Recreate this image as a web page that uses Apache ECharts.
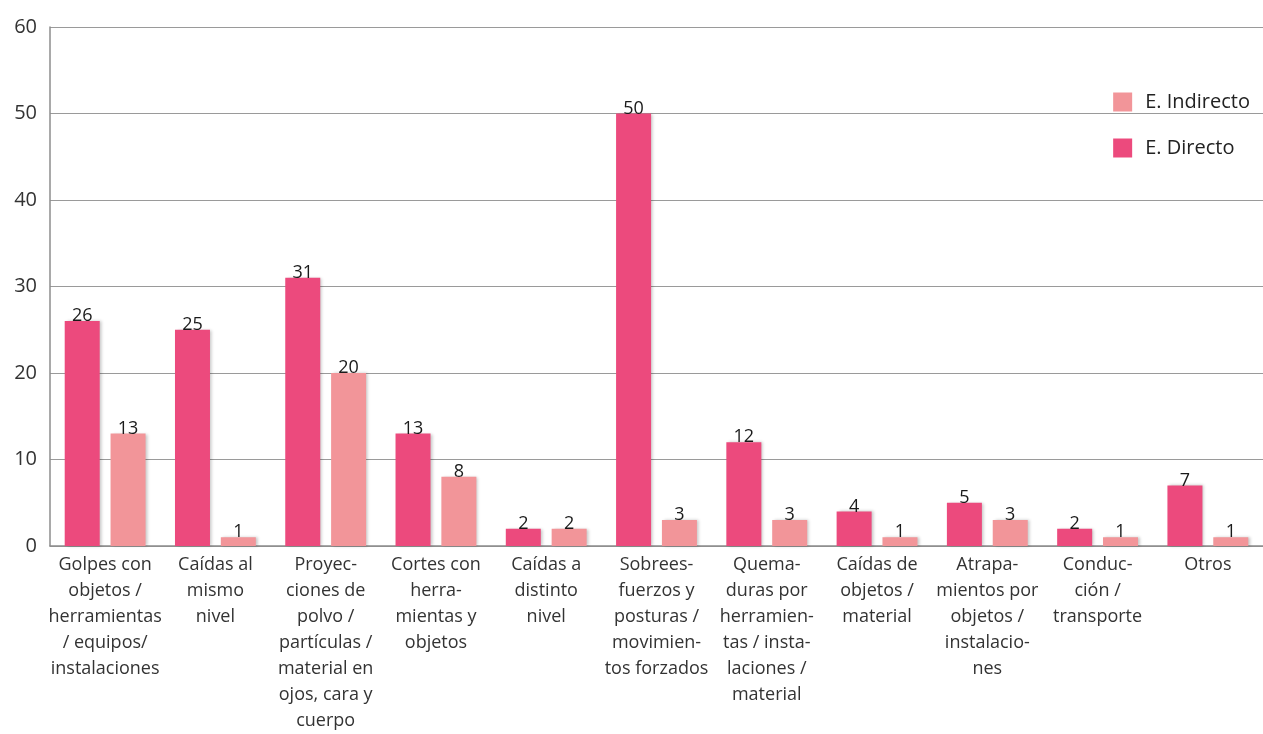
<!DOCTYPE html>
<html>
<head>
<meta charset="utf-8">
<script src="https://cdn.jsdelivr.net/npm/echarts@6/dist/echarts.min.js"></script>
<style>
  html, body { margin: 0; padding: 0; background: #fff; overflow: hidden; }
  #chart { width: 1263px; height: 734px; }
</style>
</head>
<body>
<div id="chart"></div>
<script>
// Accident categories (line breaks as typeset under each group)
const categories = [
  'Golpes con\nobjetos /\nherramientas\n/ equipos/\ninstalaciones',
  'Caídas al\nmismo\nnivel',
  'Proyec-\nciones de\npolvo /\npartículas /\nmaterial en\nojos, cara y\ncuerpo',
  'Cortes con\nherra-\nmientas y\nobjetos',
  'Caídas a\ndistinto\nnivel',
  'Sobrees-\nfuerzos y\nposturas /\nmovimien-\ntos forzados',
  'Quema-\nduras por\nherramien-\ntas / insta-\nlaciones /\nmaterial',
  'Caídas de\nobjetos /\nmaterial',
  'Atrapa-\nmientos por\nobjetos /\ninstalacio-\nnes',
  'Conduc-\nción /\ntransporte',
  'Otros'
];

const directo   = [26, 25, 31, 13, 2, 50, 12, 4, 5, 2, 7];
const indirecto = [13, 1, 20, 8, 2, 3, 3, 1, 3, 1, 1];

const yTicks = { min: 0, max: 60, interval: 10 };

const FONT = '"Open Sans", Lato, sans-serif';
const colDirecto = '#EC4A7D';
const colIndirecto = '#F29599';

const chart = echarts.init(document.getElementById('chart'));

const barStyle = (color) => ({
  color: color,
  shadowColor: 'rgba(0,0,0,0.22)',
  shadowBlur: 3,
  shadowOffsetX: 2,
  shadowOffsetY: 0
});

const valueLabel = {
  show: true,
  position: 'top',
  distance: -4,
  color: '#1a1a1a',
  fontFamily: FONT,
  fontSize: 18
};

chart.setOption({
  animation: false,
  backgroundColor: '#fff',
  grid: { left: 50, right: 0, top: 27, bottom: 183, containLabel: false },
  legend: {
    orient: 'vertical',
    right: 8,
    top: 87,
    itemWidth: 19,
    itemHeight: 19,
    itemGap: 26,
    icon: 'rect',
    data: ['E. Indirecto', 'E. Directo'],
    textStyle: { fontFamily: FONT, fontSize: 20, color: '#222', padding: [0, 0, 0, 8] }
  },
  xAxis: {
    type: 'category',
    data: categories,
    axisLine: { show: true, lineStyle: { color: '#8c8c8c', width: 1.5 } },
    axisTick: { show: false },
    axisLabel: {
      interval: 0,
      margin: 6,
      color: '#333',
      fontFamily: FONT,
      fontSize: 18,
      lineHeight: 26,
      align: 'center'
    }
  },
  yAxis: {
    type: 'value',
    min: yTicks.min,
    max: yTicks.max,
    interval: yTicks.interval,
    axisLine: { show: true, lineStyle: { color: '#8c8c8c', width: 1.5 } },
    axisTick: { show: false },
    splitLine: { show: true, lineStyle: { color: '#9a9a9a', width: 1.2 } },
    axisLabel: { color: '#333', fontFamily: FONT, fontSize: 20, margin: 13 }
  },
  series: [
    {
      name: 'E. Directo',
      type: 'bar',
      data: directo,
      barWidth: 35,
      barGap: '31%',
      itemStyle: barStyle(colDirecto),
      label: valueLabel
    },
    {
      name: 'E. Indirecto',
      type: 'bar',
      data: indirecto,
      barWidth: 35,
      itemStyle: barStyle(colIndirecto),
      label: valueLabel
    }
  ]
});
</script>
</body>
</html>
